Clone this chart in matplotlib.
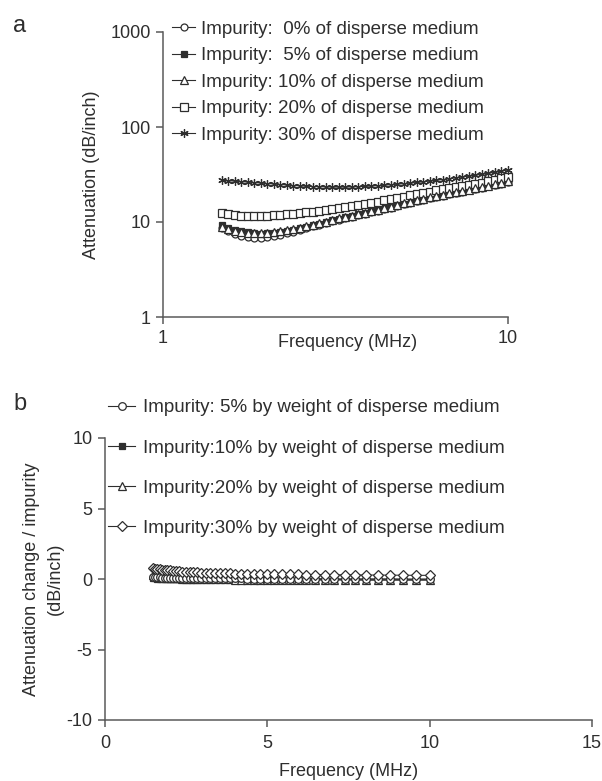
import matplotlib
matplotlib.use("Agg")
import matplotlib.pyplot as plt
from matplotlib.ticker import FixedLocator, FixedFormatter, NullLocator

plt.rcParams['font.family'] = ['Liberation Sans', 'DejaVu Sans']
plt.rcParams['axes.unicode_minus'] = False

# ---------------- data ----------------
freq = [1.48, 1.546, 1.614, 1.686, 1.761, 1.839, 1.920, 2.005, 2.095, 2.188,
        2.285, 2.386, 2.492, 2.603, 2.718, 2.839, 2.965, 3.096, 3.234, 3.377,
        3.527, 3.684, 3.847, 4.018, 4.196, 4.383, 4.577, 4.780, 4.993, 5.214,
        5.445, 5.687, 5.939, 6.203, 6.478, 6.766, 7.066, 7.379, 7.707, 8.049,
        8.406, 8.779, 9.169, 9.575, 10.00]

# panel a: attenuation (dB/inch)
att_0 = [8.6, 8.0, 7.5, 7.1, 6.9, 6.8, 6.8, 6.9, 7.1, 7.3,
         7.6, 7.9, 8.2, 8.6, 9.0, 9.4, 9.8, 10.2, 10.6, 11.0,
         11.4, 11.8, 12.2, 12.7, 13.2, 13.7, 14.2, 14.8, 15.4, 16.0,
         16.6, 17.2, 17.8, 18.4, 19.0, 19.6, 20.2, 20.8, 21.5, 22.2,
         22.9, 23.7, 24.5, 25.4, 26.3]
att_5 = [9.2, 8.7, 8.3, 8.0, 7.8, 7.6, 7.5, 7.6, 7.7, 7.9,
         8.1, 8.3, 8.6, 8.9, 9.2, 9.6, 10.0, 10.4, 10.8, 11.2,
         11.6, 12.0, 12.4, 12.9, 13.4, 13.9, 14.4, 15.0, 15.6, 16.2,
         16.8, 17.4, 18.0, 18.6, 19.2, 19.8, 20.4, 21.0, 21.7, 22.4,
         23.1, 23.9, 24.7, 25.6, 26.5]
att_10 = [8.8, 8.4, 8.1, 7.9, 7.7, 7.6, 7.6, 7.7, 7.8, 8.0,
          8.2, 8.4, 8.7, 9.0, 9.3, 9.7, 10.1, 10.5, 10.9, 11.3,
          11.7, 12.1, 12.5, 13.0, 13.5, 14.0, 14.5, 15.1, 15.7, 16.4,
          17.0, 17.6, 18.2, 18.8, 19.4, 20.0, 20.6, 21.2, 21.9, 22.6,
          23.3, 24.1, 24.9, 25.8, 26.8]
att_20 = [12.5, 12.2, 11.9, 11.7, 11.6, 11.6, 11.6, 11.7, 11.8, 11.9,
          12.0, 12.2, 12.4, 12.6, 12.8, 13.0, 13.3, 13.6, 14.0, 14.3,
          14.7, 15.1, 15.5, 15.9, 16.4, 16.9, 17.4, 17.9, 18.5, 19.1,
          19.7, 20.3, 20.9, 21.5, 22.1, 22.7, 23.3, 23.9, 24.5, 25.2,
          26.0, 26.9, 27.8, 28.8, 29.8]
att_30 = [27.5, 27.2, 26.9, 26.6, 26.3, 26.0, 25.7, 25.4, 25.1, 24.8,
          24.5, 24.2, 24.0, 23.8, 23.6, 23.5, 23.4, 23.3, 23.3, 23.3,
          23.4, 23.5, 23.7, 23.9, 24.1, 24.4, 24.7, 25.0, 25.3, 25.7,
          26.1, 26.5, 27.0, 27.5, 28.0, 28.6, 29.2, 29.8, 30.4, 31.1,
          31.8, 32.6, 33.4, 34.3, 35.3]

labels_a = ["Impurity:  0% of disperse medium",
            "Impurity:  5% of disperse medium",
            "Impurity: 10% of disperse medium",
            "Impurity: 20% of disperse medium",
            "Impurity: 30% of disperse medium"]

# panel b: attenuation change / impurity (dB/inch)
chg_5 = [0.12, 0.12, 0.11, 0.11, 0.10, 0.10, 0.09, 0.09, 0.08, 0.08,
         0.08, 0.07, 0.07, 0.07, 0.06, 0.06, 0.06, 0.05, 0.05, 0.05,
         0.05, 0.04, 0.04, 0.04, 0.04, 0.03, 0.03, 0.03, 0.03, 0.03,
         0.02, 0.02, 0.02, 0.02, 0.02, 0.02, 0.01, 0.01, 0.01, 0.01,
         0.01, 0.01, 0.00, 0.00, 0.00]
chg_10 = [0.05, 0.04, 0.03, 0.03, 0.02, 0.02, 0.01, 0.01, 0.01, 0.00,
          0.00, 0.00, 0.00, -0.01, -0.01, -0.01, -0.01, -0.01, -0.02, -0.02,
          -0.02, -0.02, -0.02, -0.02, -0.03, -0.03, -0.03, -0.03, -0.03, -0.03,
          -0.03, -0.04, -0.04, -0.04, -0.04, -0.04, -0.04, -0.04, -0.05, -0.05,
          -0.05, -0.05, -0.05, -0.05, -0.05]
chg_20 = [0.25, 0.22, 0.19, 0.16, 0.14, 0.12, 0.10, 0.08, 0.06, 0.05,
          0.04, 0.03, 0.02, 0.01, 0.00, 0.00, -0.01, -0.01, -0.02, -0.02,
          -0.03, -0.03, -0.03, -0.04, -0.04, -0.04, -0.05, -0.05, -0.05, -0.05,
          -0.06, -0.06, -0.06, -0.06, -0.07, -0.07, -0.07, -0.07, -0.07, -0.08,
          -0.08, -0.08, -0.08, -0.08, -0.08]
chg_30 = [0.75, 0.73, 0.71, 0.69, 0.67, 0.65, 0.63, 0.61, 0.59, 0.57,
          0.55, 0.53, 0.51, 0.50, 0.48, 0.47, 0.46, 0.45, 0.44, 0.43,
          0.42, 0.41, 0.40, 0.39, 0.38, 0.37, 0.36, 0.36, 0.35, 0.34,
          0.33, 0.33, 0.32, 0.31, 0.31, 0.30, 0.30, 0.29, 0.29, 0.28,
          0.28, 0.27, 0.27, 0.26, 0.26]

labels_b = ["Impurity: 5% by weight of disperse medium",
            "Impurity:10% by weight of disperse medium",
            "Impurity:20% by weight of disperse medium",
            "Impurity:30% by weight of disperse medium"]

a_yticks = [1, 10, 100, 1000]
a_xticks = [1, 10]
b_xticks = [0, 5, 10, 15]
b_yticks = [-10, -5, 0, 5, 10]

# ---------------- style ----------------
INK = '#2e2e2e'
AX = '#5a5a5a'
FS = 13
LFS = 13.5

W, H = 602, 781
fig = plt.figure(figsize=(W / 100, H / 100), dpi=100)


def box(l, t, r, b):
    return [l / W, 1 - b / H, (r - l) / W, (b - t) / H]


def style(ax, pad=4):
    for s in ['top', 'right']:
        ax.spines[s].set_visible(False)
    for s in ['left', 'bottom']:
        ax.spines[s].set_color(AX)
        ax.spines[s].set_linewidth(1.1)
    ax.tick_params(direction='out', length=5, width=1.1, color=AX,
                   labelsize=FS, labelcolor=INK, pad=pad)
    ax.patch.set_alpha(0)


# ---------------- panel a ----------------
axa = fig.add_axes(box(163, 32, 508, 317))
style(axa)
axa.set_xscale('log')
axa.set_yscale('log')
axa.set_xlim(1, 10)
axa.set_ylim(1, 1000)
axa.xaxis.set_major_locator(FixedLocator(a_xticks))
axa.xaxis.set_major_formatter(FixedFormatter([str(v) for v in a_xticks]))
axa.xaxis.set_minor_locator(NullLocator())
axa.yaxis.set_major_locator(FixedLocator(a_yticks))
axa.yaxis.set_major_formatter(FixedFormatter([str(v) for v in a_yticks]))
axa.yaxis.set_minor_locator(NullLocator())

mk = dict(color=INK, lw=0.8, markeredgewidth=0.9, clip_on=False)
axa.plot(freq, att_5, marker='s', ms=4.4, mfc=INK, mec=INK, label=labels_a[1], zorder=3, **mk)
axa.plot(freq, att_0, marker='o', ms=5.0, mfc='white', mec=INK, label=labels_a[0], zorder=2, **mk)
axa.plot(freq, att_10, marker='^', ms=5.2, mfc='white', mec=INK, label=labels_a[2], zorder=4, **mk)
axa.plot(freq, att_20, marker='s', ms=5.2, mfc='white', mec=INK, label=labels_a[3], zorder=3, **mk)
axa.plot(freq, att_30, marker=(6, 2, 0), ms=6.0, mfc=INK, mec=INK, label=labels_a[4], zorder=3, **mk)

h, l = axa.get_legend_handles_labels()
order = [l.index(x) for x in labels_a]
axa.legend([h[i] for i in order], [l[i] for i in order],
           loc='upper left', bbox_to_anchor=(0.026, 1.04), frameon=False,
           fontsize=LFS, handlelength=1.25, handletextpad=0.3,
           labelspacing=0.5, borderaxespad=0.0, borderpad=0.0,
           labelcolor=INK)

axa.set_xlabel('Frequency (MHz)', fontsize=FS, color=INK)
axa.xaxis.set_label_coords((348 - 163) / 345, -(342 - 317) / 285)
axa.xaxis.label.set_va('center')
axa.set_ylabel('Attenuation (dB/inch)', fontsize=FS, color=INK, labelpad=7)
fig.text(20 / W, 1 - 26 / H, 'a', fontsize=17, color=INK, ha='center', va='center')

# ---------------- panel b ----------------
axb = fig.add_axes(box(105, 438, 592, 720))
style(axb, pad=6)
axb.set_xlim(0, 15)
axb.set_ylim(-10, 10)
axb.set_xticks(b_xticks)
axb.set_yticks(b_yticks)
axb.tick_params(axis='y', pad=4)

mkb = dict(color=INK, lw=0.8, markeredgewidth=0.9)
axb.plot(freq, chg_10, marker='s', ms=5.0, mfc=INK, mec=INK, label=labels_b[1], zorder=2, **mkb)
axb.plot(freq, chg_20, marker='^', ms=5.5, mfc='white', mec=INK, label=labels_b[2], zorder=3, **mkb)
axb.plot(freq, chg_5, marker='o', ms=5.5, mfc='white', mec=INK, label=labels_b[0], zorder=3, **mkb)
axb.plot(freq, chg_30, marker='D', ms=5.2, mfc='white', mec=INK, label=labels_b[3], zorder=4, **mkb)

h, l = axb.get_legend_handles_labels()
order = [l.index(x) for x in labels_b]
axb.legend([h[i] for i in order], [l[i] for i in order],
           loc='upper left', bbox_to_anchor=(0.006, 1.137), frameon=False,
           fontsize=LFS, handlelength=1.45, handletextpad=0.42,
           labelspacing=1.23, borderaxespad=0.0, borderpad=0.0,
           labelcolor=INK)

axb.set_xlabel('Frequency (MHz)', fontsize=FS, color=INK, labelpad=8)
axb.set_ylabel('Attenuation change / impurity\n(dB/inch)', fontsize=FS,
               color=INK, labelpad=2, linespacing=1.5)
fig.text(20 / W, 1 - 404 / H, 'b', fontsize=17, color=INK, ha='center', va='center')

fig.savefig('out.png', dpi=100, facecolor='white')
